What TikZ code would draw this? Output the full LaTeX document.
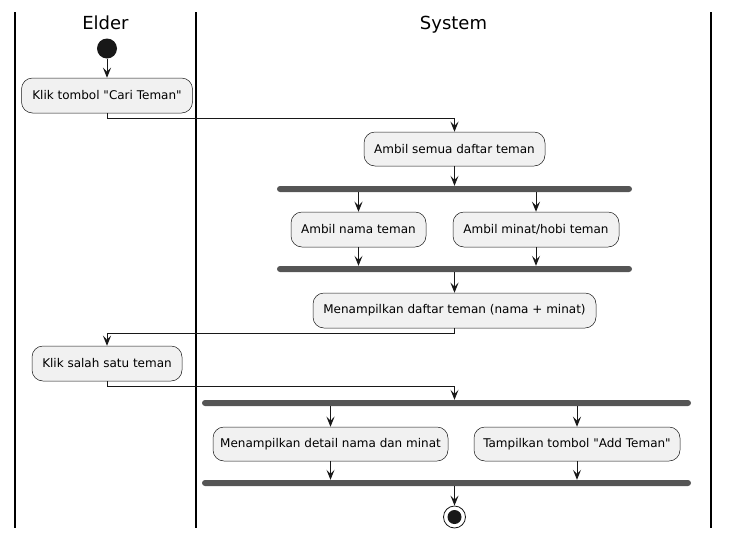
\documentclass[tikz,border=0pt]{standalone}
\usepackage{fontspec}
\setmainfont{DejaVu Sans}[Ligatures=TeXOff]
\usetikzlibrary{arrows.meta,positioning}
\definecolor{boxfill}{HTML}{F1F1F1}
\definecolor{boxline}{HTML}{181818}
\definecolor{barfill}{HTML}{555555}
\tikzset{
  act/.style={draw=boxline,fill=boxfill,line width=0.5pt,rounded corners=11pt,
    minimum height=35pt,inner sep=0pt,font=\fontsize{12}{14}\selectfont},
  bar/.style={fill=barfill,draw=none,rounded corners=3pt,minimum height=6pt,inner sep=0pt},
  flow/.style={line width=1pt,draw=boxline,-{Stealth[length=10pt,width=8pt,inset=4pt]}},
  lane/.style={line width=1.5pt,draw=black},
  lanetitle/.style={font=\fontsize{18}{20}\selectfont,anchor=base},
}
\begin{document}
\begin{tikzpicture}[x=1pt,y=-1pt]
\useasboundingbox (0,0) rectangle (729,539);
% lanes
\coordinate (l1t) at (15,12);  \coordinate (l1b) at (15,528);
\coordinate (l2t) at (196,12); \coordinate (l2b) at (196,528);
\coordinate (l3t) at (711,12); \coordinate (l3b) at (711,528);
\draw[lane] (l1t) -- (l1b);
\draw[lane] (l2t) -- (l2b);
\draw[lane] (l3t) -- (l3b);
\node[lanetitle] (tElder) at (105.5,29.5) {Elder};
\node[lanetitle] (tSystem) at (453.5,29.5) {System};
% start
\node[circle,fill=boxline,minimum size=20pt,inner sep=0pt] (start) at (107,48.5) {};
% activities
\node[act,minimum width=171pt] (b1) at (107,95.5) {Klik tombol "Cari Teman"};
\node[act,minimum width=181pt,minimum height=34pt] (b2) at (454.5,149) {Ambil semua daftar teman};
\node[bar,minimum width=355pt] (f1) at (454.5,189) {};
\node[act,minimum width=135pt] (b3) at (358.5,229.5) {Ambil nama teman};
\node[act,minimum width=166pt] (b4) at (536,229.5) {Ambil minat/hobi teman};
\node[bar,minimum width=355pt] (j1) at (454.5,269) {};
\node[act,minimum width=283pt] (b5) at (454.5,310.5) {Menampilkan daftar teman (nama + minat)};
\node[act,minimum width=150pt] (b6) at (107,363.5) {Klik salah satu teman};
\node[bar,minimum width=489pt] (f2) at (446.5,403) {};
\node[act,minimum width=235pt,minimum height=34pt] (b7) at (330.5,444) {Menampilkan detail nama dan minat};
\node[act,minimum width=206pt,minimum height=34pt] (b8) at (577,444) {Tampilkan tombol "Add Teman"};
\node[bar,minimum width=489pt] (j2) at (446.5,483) {};
% end
\node[circle,draw=boxline,fill=white,line width=0.8pt,minimum size=22pt,inner sep=0pt] (endo) at (454.5,517) {};
\node[circle,fill=boxline,minimum size=14pt,inner sep=0pt] (endi) at (endo.center) {};
% flows
\draw[flow] (start) -- (b1);
\draw[flow] (b1.south) -- ++(0,5) -| (b2.north);
\draw[flow] (b2.south) -- (f1.north);
\draw[flow] (b3.north |- f1.south) -- (b3.north);
\draw[flow] (b4.north |- f1.south) -- (b4.north);
\draw[flow] (b3.south) -- (b3.south |- j1.north);
\draw[flow] (b4.south) -- (b4.south |- j1.north);
\draw[flow] (j1.south -| b5.north) -- (b5.north);
\draw[flow] (b5.south) -- ++(0,5) -| (b6.north);
\draw[flow] (b6.south) -- ++(0,5) -| (b5.south |- f2.north);
\draw[flow] (b7.north |- f2.south) -- (b7.north);
\draw[flow] (b8.north |- f2.south) -- (b8.north);
\draw[flow] (b7.south) -- (b7.south |- j2.north);
\draw[flow] (b8.south) -- (b8.south |- j2.north);
\draw[flow] (b5.south |- j2.south) -- (endo.north);
\end{tikzpicture}
\end{document}
